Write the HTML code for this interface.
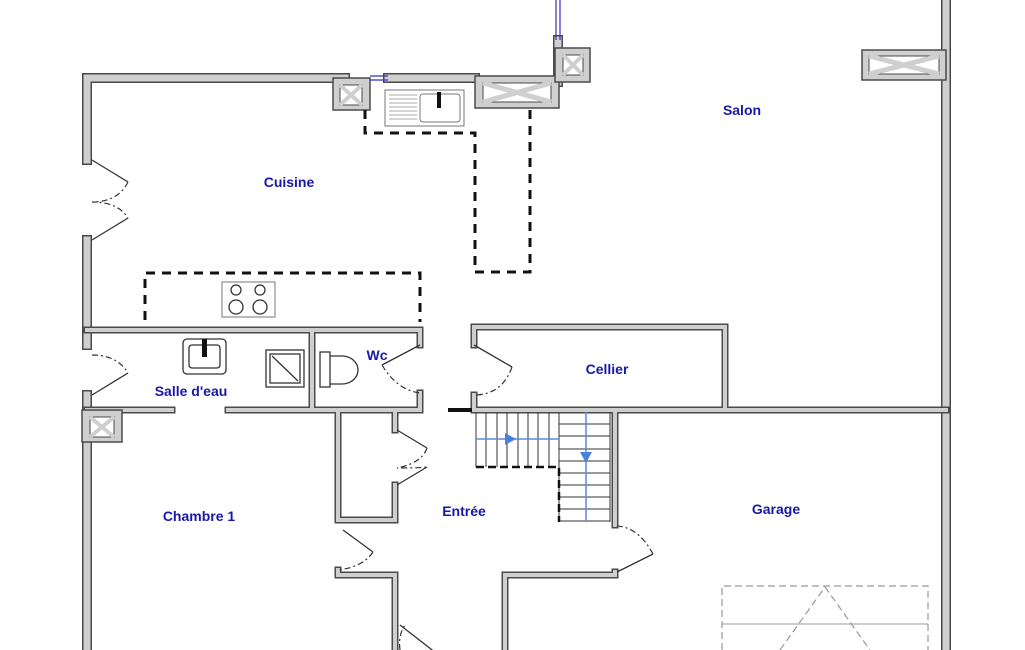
<!DOCTYPE html>
<html><head><meta charset="utf-8"><style>
body{margin:0;background:#fff}
svg{display:block}
.o{fill:none;stroke:#4a4a4a;stroke-linecap:square}
.i{fill:none;stroke:#cfcfcf;stroke-linecap:square}
text{font-family:"Liberation Sans",sans-serif;font-weight:bold;font-size:14px;fill:#1818a8;text-anchor:middle}
.th{stroke:#333;stroke-width:1.3;fill:none}
.dash{stroke:#111;stroke-width:3;fill:none;stroke-dasharray:9,7}
.arc{stroke:#333;stroke-width:1.2;fill:none;stroke-dasharray:6,3,2,3}
</style></head><body>
<svg width="1025" height="650" viewBox="0 0 1025 650">
<defs>
<g id="thick">
<path d="M87 160V78H345M388 78H475M87 240V345M87 395V650M946 0V650M558 40V82"/>
</g>
<g id="thin">
<path d="M87 330H420V345M420 393V410H228M172 410H87M312 330V410M474 345V327H725V410M474 395V410M474 410H946M338 410V520H395V485M395 430V410M338 570V575H395V650M505 650V575H615V572M615 525V410"/>
</g>
</defs>
<g class="o" stroke-width="10"><use href="#thick"/></g>
<g class="i" stroke-width="7"><use href="#thick"/></g>
<g class="o" stroke-width="7"><use href="#thin"/></g>
<g class="i" stroke-width="4"><use href="#thin"/></g>
<!-- blocks -->
<rect x="475" y="76" width="84" height="32" fill="#cfcfcf" stroke="#4a4a4a" stroke-width="1.5"/>
<rect x="483" y="83" width="68" height="19" fill="#fff" stroke="#4a4a4a"/>
<path d="M483 83L551 102M551 83L483 102" stroke="#cfcfcf" stroke-width="5"/>
<rect x="555" y="48" width="35" height="34" fill="#cfcfcf" stroke="#4a4a4a" stroke-width="1.5"/>
<rect x="333" y="78" width="37" height="32" fill="#cfcfcf" stroke="#4a4a4a" stroke-width="1.5"/>
<rect x="82" y="410" width="40" height="32" fill="#cfcfcf" stroke="#4a4a4a" stroke-width="1.5"/>
<rect x="862" y="50" width="84" height="30" fill="#cfcfcf" stroke="#4a4a4a" stroke-width="1.5"/>
<rect x="869" y="56" width="70" height="18" fill="#fff" stroke="#4a4a4a"/>
<path d="M869 56L939 74M939 56L869 74" stroke="#cfcfcf" stroke-width="5"/>
<g stroke="#4a4a4a" stroke-width="1" fill="#fff">
<path d="M340 85h22v20h-22z M563 55h20v20h-20z M90 417h24v20h-24z"/>
<path d="M340 85l22 20M362 85l-22 20M563 55l20 20M583 55l-20 20M90 417l24 20M114 417l-24 20" stroke="#cfcfcf" stroke-width="4"/>
</g>
<!-- windows -->
<path d="M370 76H388M370 80H388" stroke="#3030c0" stroke-width="1.2"/>
<path d="M556 0V40M560 0V40" stroke="#3030c0" stroke-width="1.2"/>
<!-- sink -->
<rect x="385" y="90" width="79" height="36" fill="#fff" stroke="#777"/>
<path d="M389 95h28M389 99h28M389 103h28M389 107h28M389 111h28M389 115h28M389 119h28" stroke="#aaa"/>
<rect x="420" y="94" width="40" height="28" rx="3" fill="none" stroke="#777"/>
<rect x="437" y="92" width="4" height="16" fill="#111"/>
<!-- counters -->
<path d="M365 110V133H475V272" class="dash"/>
<path d="M475 272H530V110" class="dash" stroke-dasharray="9,5,2,5"/>
<path d="M145 320V273H420V322" class="dash"/>
<rect x="222" y="282" width="53" height="35" fill="#fff" stroke="#777"/>
<circle cx="236" cy="290" r="5" class="th"/><circle cx="260" cy="290" r="5" class="th"/>
<circle cx="236" cy="307" r="7" class="th"/><circle cx="260" cy="307" r="7" class="th"/>
<!-- bathroom fixtures -->
<rect x="183" y="339" width="43" height="35" rx="4" class="th" stroke-width="2"/>
<rect x="189" y="345" width="31" height="23" rx="3" class="th"/>
<rect x="202" y="339" width="5" height="18" fill="#111"/>
<rect x="266" y="350" width="38" height="37" class="th"/><rect x="270" y="354" width="30" height="29" class="th"/>
<path d="M272 356l26 25" class="th"/>
<rect x="320" y="352" width="10" height="35" class="th"/>
<path d="M330 356h12a16 14 0 0 1 0 28h-12" class="th" stroke-width="2"/>
<!-- doors -->
<g class="th" stroke-width="3"><path d="M92 160l36 22M92 240l36-22M92 395l36-22M420 345l-38 20M474 345l38 22M397 430l30 18M397 485l30-18M343 530l30 22M617 572l36-18M400 625l45 35"/></g>
<g class="arc"><path d="M128 182q-10 20-36 20q26 0 36 16M92 355q25 0 36 18M382 365q15 25 38 28M512 367q-10 28-38 28M427 448q-5 15-30 20q25 0 30 -1M373 552q-10 15-35 18M653 554q-15-28-38-28M400 650q-2-15 5-25"/></g>
<path d="M448 410H472" stroke="#111" stroke-width="4"/>
<!-- stairs -->
<g stroke="#333" stroke-width="1" fill="none">
<path d="M476 412V467M486 412V467M497 412V467M507 412V467M518 412V467M528 412V467M538 412V467M549 412V467M559 412V522M610 412V522"/>
<path d="M559 424H610M559 436H610M559 449H610M559 461H610M559 473H610M559 485H610M559 497H610M559 509H610M559 521H610"/>
</g>
<path d="M476 467H559V522" stroke="#111" stroke-width="2.5" stroke-dasharray="8,4" fill="none"/>
<path d="M476 439H559M586 412V522" stroke="#5a8ae0" stroke-width="1.5"/>
<path d="M505 433l11 6l-11 6z M580 452l6 11l6-11z" fill="#4a7fe0"/>
<!-- garage door -->
<g stroke="#999" stroke-width="1.2" fill="none" stroke-dasharray="7,4">
<path d="M722 650V586H928V650M780 650L825 587L870 650"/>
</g>
<path d="M722 624H928" stroke="#999" stroke-width="1"/>
<!-- labels -->
<text x="742" y="115">Salon</text>
<text x="289" y="187">Cuisine</text>
<text x="607" y="374">Cellier</text>
<text x="377" y="360">Wc</text>
<text x="191" y="396">Salle d'eau</text>
<text x="199" y="521">Chambre 1</text>
<text x="464" y="516">Entrée</text>
<text x="776" y="514">Garage</text>
</svg>
</body></html>
